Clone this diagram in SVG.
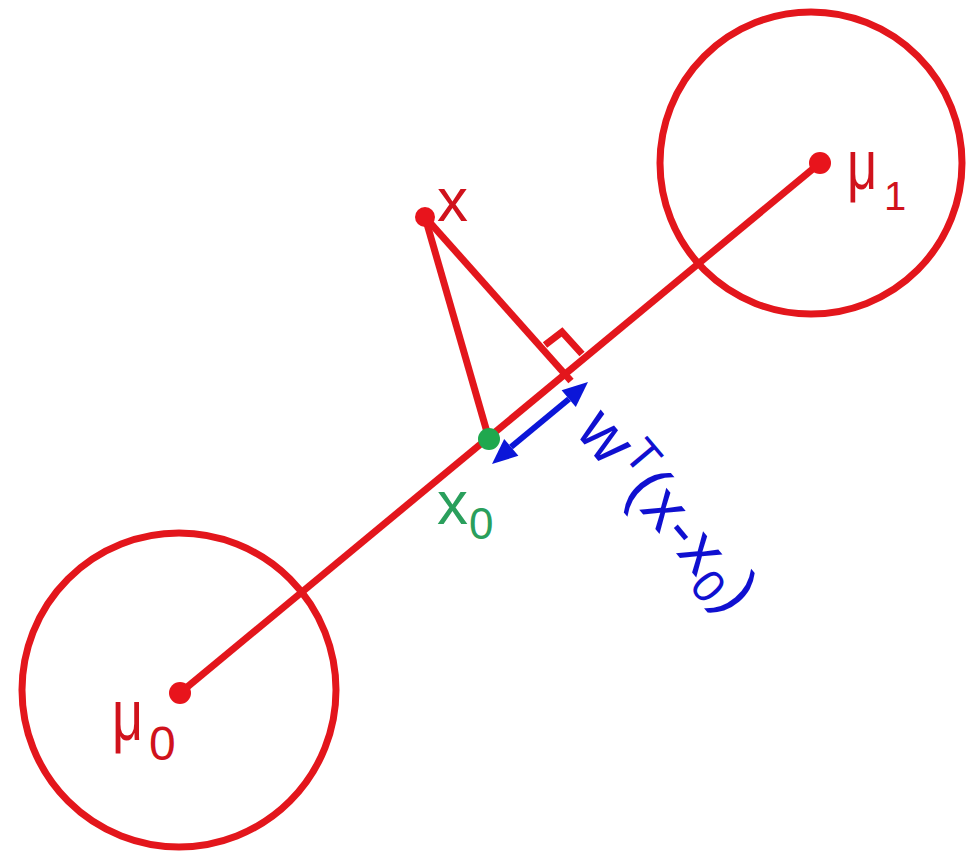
<svg xmlns="http://www.w3.org/2000/svg" width="967" height="858" viewBox="0 0 967 858">
<style>
.ring{fill:none;stroke:#e3161c;stroke-width:7}
.ln{fill:none;stroke:#e3161c;stroke-width:7;stroke-linecap:butt}
.dot{fill:#e8141c}
.rt{fill:#d0121c;font-family:"Liberation Sans",Arial,sans-serif}
.gt{fill:#2a9f5c;font-family:"Liberation Sans",Arial,sans-serif}
.bt{fill:#1010d0;font-family:"Liberation Sans",Arial,sans-serif}
</style>
<rect width="967" height="858" fill="#ffffff"/>
<g id="connectors">
  <line class="ln" x1="180" y1="693" x2="820" y2="163"/>
  <line class="ln" x1="425" y1="217" x2="489" y2="439"/>
  <line class="ln" x1="425" y1="217" x2="571" y2="381"/>
  <polyline class="ln" points="545,345 562,332 582,354"/>
  <g id="projection-arrow">
    <line x1="511" y1="447" x2="569" y2="399" stroke="#0b16d8" stroke-width="6"/>
    <polygon points="588,382 575.8,407 561.6,390.2" fill="#0b16d8"/>
    <polygon points="492,464 518.4,455.8 504.2,439" fill="#0b16d8"/>
  </g>
</g>
<g id="class0">
  <circle class="ring" cx="179" cy="690" r="157"/>
  <circle class="dot" cx="180" cy="693" r="11"/>
  <text class="rt" transform="translate(112,740) scale(0.75,1)" font-size="72">μ</text>
  <text class="rt" x="149" y="760" font-size="48">0</text>
</g>
<g id="class1">
  <circle class="ring" cx="811" cy="163" r="151"/>
  <circle class="dot" cx="820" cy="163" r="11"/>
  <text class="rt" transform="translate(847,189) scale(0.75,1)" font-size="70">μ</text>
  <text class="rt" x="884" y="210" font-size="40">1</text>
</g>
<g id="point-x">
  <circle class="dot" cx="425" cy="217" r="10"/>
  <text class="rt" x="437" y="221" font-size="62">x</text>
</g>
<g id="point-x0">
  <circle cx="489" cy="439" r="11" fill="#1fa84e"/>
  <text class="gt" x="437" y="524" font-size="62">x</text>
  <text class="gt" x="469" y="539" font-size="44">0</text>
</g>
<g id="label-projection">
  <text class="bt" transform="translate(574,432) rotate(50)" font-size="66" letter-spacing="1">w<tspan dy="-22" font-size="46">T</tspan><tspan dy="22">(x-x</tspan><tspan dy="12" font-size="46">0</tspan><tspan dy="-12">)</tspan></text>
</g>
</svg>
